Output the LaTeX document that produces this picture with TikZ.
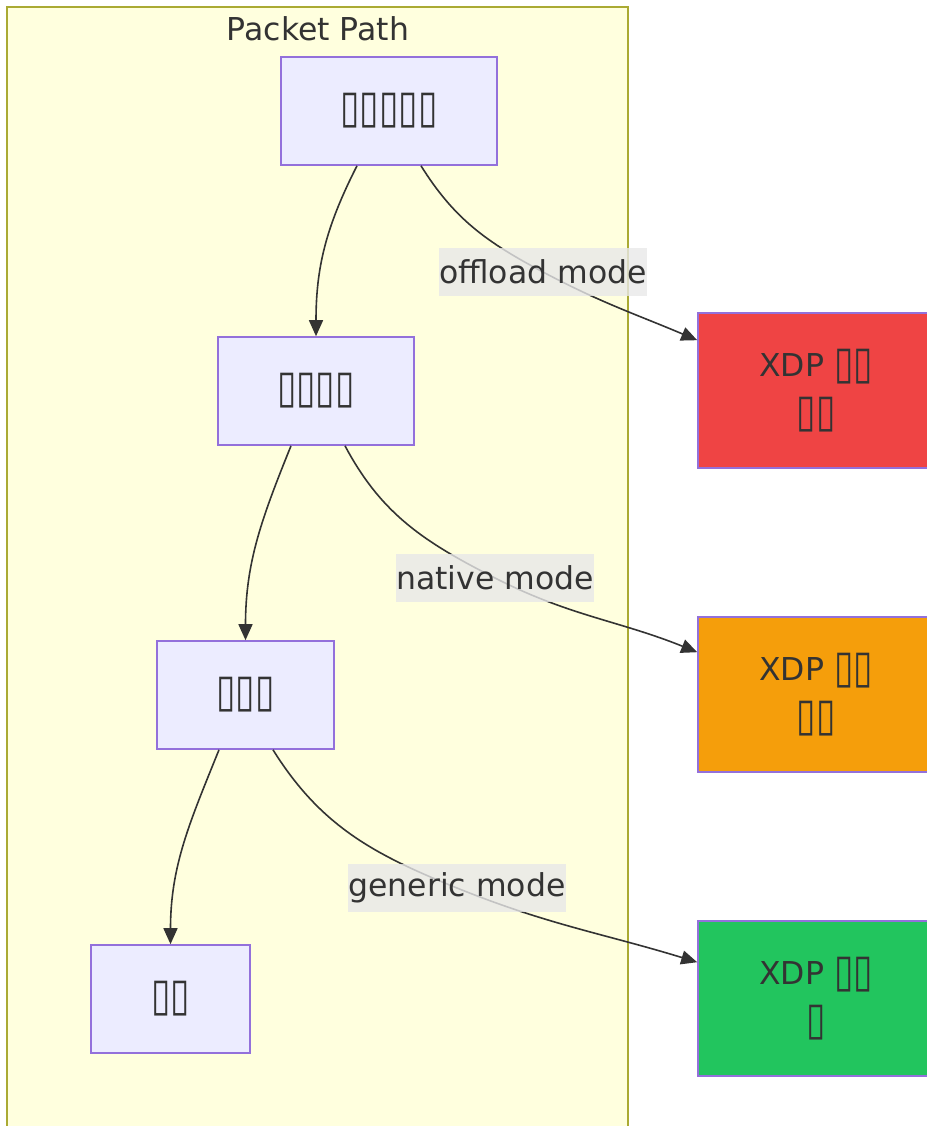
\documentclass[tikz,border=0pt]{standalone}
\usepackage{fontspec}
\setmainfont{DejaVu Sans}
\usetikzlibrary{arrows.meta}

\definecolor{clfill}{HTML}{FFFFDE}
\definecolor{clline}{HTML}{AAAA33}
\definecolor{nfill}{HTML}{ECECFF}
\definecolor{nline}{HTML}{9370DB}
\definecolor{ink}{HTML}{333333}
\definecolor{lblbg}{HTML}{E8E8E8}
\definecolor{offred}{HTML}{EF4444}
\definecolor{natorange}{HTML}{F59E0B}
\definecolor{gengreen}{HTML}{22C55E}

% missing-glyph boxes, as the reference prints them
\newcommand{\tofu}[1]{\raisebox{-2pt}{\scalebox{1.12}[1.45]{#1}}}

\tikzset{
  box/.style={draw=nline, fill=nfill, line width=1.6pt, text=ink, align=center,
    inner sep=0pt, minimum height=108pt, font=\fontsize{31.5}{48}\selectfont},
  xdp/.style={box, minimum width=236pt, minimum height=155pt},
  lbl/.style={fill=lblbg, fill opacity=0.8, text opacity=1, text=ink, inner sep=0pt,
    minimum height=48pt, font=\fontsize{31.5}{48}\selectfont},
  flow/.style={-{Triangle[length=16pt,width=14pt]}, draw=ink, line width=1.6pt}
}

\begin{document}
\begin{tikzpicture}[x=1pt,y=-1pt]
  \useasboundingbox (0,0) rectangle (926,1126);

  % cluster
  \draw[fill=clfill, draw=clline, line width=2pt] (7,7) rectangle (628,1140);
  \node[text=ink, font=\fontsize{31.5}{48}\selectfont] (title) at (318,29) {Packet Path};

  % path nodes
  \node[box, minimum width=216pt] (nic) at (389,111) {\tofu{▯▯▯▯▯}};
  \node[box, minimum width=196pt] (drv) at (316,391) {\tofu{▯▯▯▯}};
  \node[box, minimum width=177pt] (stk) at (245.5,695) {\tofu{▯▯▯}};
  \node[box, minimum width=159pt] (usr) at (170.5,999) {\tofu{▯▯}};

  % xdp modes
  \node[xdp, fill=offred] (off) at (816,390.5) {XDP \tofu{▯▯}\\\tofu{▯▯}};
  \node[xdp, fill=natorange] (nat) at (816,694.5) {XDP \tofu{▯▯}\\\tofu{▯▯}};
  \node[xdp, fill=gengreen] (gen) at (816,998.5) {XDP \tofu{▯▯}\\\tofu{▯}};

  \coordinate (m1) at (543,272);
  \coordinate (m2) at (495,578);
  \coordinate (m3) at (457,888);

  \draw[flow] ([xshift=-32pt]nic.south) to[out=-117,in=90] (drv.north);
  \draw[flow] ([xshift=32pt]nic.south) to[out=-58,in=152] node[lbl,pos=1] {offload mode} (m1)
    to[out=-28,in=157] ([yshift=-28pt]off.north west);

  \draw[flow] ([xshift=-25pt]drv.south) to[out=-112,in=90] (stk.north);
  \draw[flow] ([xshift=29pt]drv.south) to[out=-62,in=153] node[lbl,pos=1] {native mode} (m2)
    to[out=-27,in=158] ([yshift=-36pt]nat.north west);

  \draw[flow] ([xshift=-26.5pt]stk.south) to[out=-112,in=90] (usr.north);
  \draw[flow] ([xshift=27.5pt]stk.south) to[out=-58,in=158] node[lbl,pos=1] {generic mode} (m3)
    to[out=-22,in=163] ([yshift=-42pt]gen.north west);
\end{tikzpicture}
\end{document}
